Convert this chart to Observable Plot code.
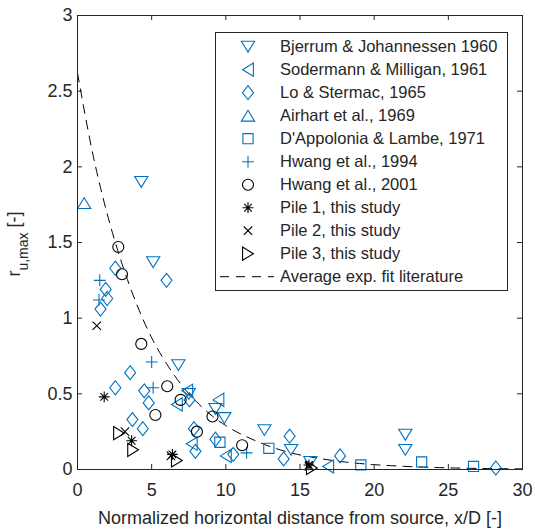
<!DOCTYPE html>
<html><head><meta charset="utf-8">
<script src="https://cdn.jsdelivr.net/npm/d3@7"></script>
<script src="https://cdn.jsdelivr.net/npm/@observablehq/plot@0.6"></script>
<style>
body{margin:0;background:#fff;}
svg{font-family:"Liberation Sans",Arial,sans-serif;}
</style>
</head><body><div id="chart"></div>
<script>
// ---- data ----
const xTicks = [0, 5, 10, 15, 20, 25, 30];
const xTickLabels = ["0", "5", "10", "15", "20", "25", "30"];
const yTicks = [0, 0.5, 1, 1.5, 2, 2.5, 3];
const yTickLabels = ["0", "0.5", "1", "1.5", "2", "2.5", "3"];

const bjerrumX = [4.3, 5.1, 6.8, 7.5, 9.3, 9.9, 12.6, 14.4, 15.7, 22.1, 22.1];
const bjerrumY = [1.90, 1.37, 0.69, 0.50, 0.40, 0.34, 0.26, 0.13, 0.05, 0.23, 0.13];
const sodermannX = [7.4, 6.7, 9.5, 7.7, 10.0, 16.9];
const sodermannY = [0.52, 0.43, 0.46, 0.17, 0.09, 0.02];
const loX = [1.9, 2.0, 1.55, 2.55, 6.0, 3.55, 2.55, 4.5, 4.8, 3.7, 4.4, 7.55, 7.85, 7.95, 9.3, 10.5, 14.3, 13.9, 17.7, 28.2];
const loY = [1.19, 1.13, 1.06, 1.33, 1.25, 0.64, 0.54, 0.52, 0.44, 0.33, 0.27, 0.46, 0.27, 0.12, 0.20, 0.10, 0.22, 0.07, 0.09, 0.01];
const airhartX = [0.45];
const airhartY = [1.76];
const dappoloniaX = [9.6, 12.9, 19.1, 23.2, 26.7];
const dappoloniaY = [0.18, 0.14, 0.03, 0.05, 0.02];
const hwang1994X = [1.5, 1.45, 5.0, 5.1, 11.4];
const hwang1994Y = [1.25, 1.12, 0.71, 0.54, 0.11];
const hwang2001X = [2.75, 3.0, 4.3, 6.05, 6.95, 5.25, 8.05, 9.1, 11.1];
const hwang2001Y = [1.47, 1.29, 0.83, 0.55, 0.46, 0.36, 0.25, 0.35, 0.16];
const pile1X = [1.8, 3.65, 6.4, 15.6];
const pile1Y = [0.48, 0.19, 0.10, 0.03];
const pile2X = [1.3, 3.2, 6.3, 15.6];
const pile2Y = [0.95, 0.25, 0.09, 0.02];
const pile3X = [2.8, 3.75, 6.7, 15.8];
const pile3Y = [0.24, 0.13, 0.06, 0.01];
const fitX = [0, 1, 2, 3, 4, 5, 6, 7, 8, 9, 10, 12, 14, 16, 18, 20, 22, 25, 30];
const fitY = [2.62, 2.10, 1.69, 1.36, 1.09, 0.87, 0.70, 0.56, 0.45, 0.36, 0.29, 0.19, 0.12, 0.078, 0.05, 0.032, 0.021, 0.011, 0.004];

// ---- symbols ----
function mk(fn){ return { draw(c, size){ const r = Math.sqrt(size/Math.PI); fn(c, r); } }; }
const symTriDown = mk((c,r)=>{const w=1.1*r,h=0.9*r; c.moveTo(-w,-h); c.lineTo(w,-h); c.lineTo(0,h); c.closePath();});
const symTriUp = mk((c,r)=>{const w=1.1*r,h=0.9*r; c.moveTo(-w,h); c.lineTo(w,h); c.lineTo(0,-h); c.closePath();});
const symTriLeft = mk((c,r)=>{const w=1.1*r,h=0.9*r; c.moveTo(-h,0); c.lineTo(h,-w); c.lineTo(h,w); c.closePath();});
const symTriRight = mk((c,r)=>{const w=1.1*r,h=0.9*r; c.moveTo(h,0); c.lineTo(-h,-w); c.lineTo(-h,w); c.closePath();});
const symDiamond = mk((c,r)=>{c.moveTo(0,-1.17*r); c.lineTo(0.92*r,0); c.lineTo(0,1.17*r); c.lineTo(-0.92*r,0); c.closePath();});
const symCircle = mk((c,r)=>{const a=0.92*r; c.moveTo(a,0); c.arc(0,0,a,0,2*Math.PI);});
const symSquare = mk((c,r)=>{const a=0.85*r; c.rect(-a,-a,2*a,2*a);});
const symPlus = mk((c,r)=>{c.moveTo(-r,0); c.lineTo(r,0); c.moveTo(0,-r); c.lineTo(0,r);});
const symTimes = mk((c,r)=>{const a=0.7*r; c.moveTo(-a,-a); c.lineTo(a,a); c.moveTo(-a,a); c.lineTo(a,-a);});
const symStar = mk((c,r)=>{const a=0.9*r,b=0.64*r; c.moveTo(-a,0); c.lineTo(a,0); c.moveTo(0,-a); c.lineTo(0,a); c.moveTo(-b,-b); c.lineTo(b,b); c.moveTo(-b,b); c.lineTo(b,-b);});

const BLUE = "#0072BD", BLACK = "#000000", AX = "#262626";

const series = [
  {name: "Bjerrum & Johannessen 1960", x: bjerrumX, y: bjerrumY, sym: symTriDown, color: BLUE},
  {name: "Sodermann & Milligan, 1961", x: sodermannX, y: sodermannY, sym: symTriLeft, color: BLUE},
  {name: "Lo & Stermac, 1965", x: loX, y: loY, sym: symDiamond, color: BLUE},
  {name: "Airhart et al., 1969", x: airhartX, y: airhartY, sym: symTriUp, color: BLUE},
  {name: "D'Appolonia & Lambe, 1971", x: dappoloniaX, y: dappoloniaY, sym: symSquare, color: BLUE},
  {name: "Hwang et al., 1994", x: hwang1994X, y: hwang1994Y, sym: symPlus, color: BLUE},
  {name: "Hwang et al., 2001", x: hwang2001X, y: hwang2001Y, sym: symCircle, color: BLACK},
  {name: "Pile 1, this study", x: pile1X, y: pile1Y, sym: symStar, color: BLACK},
  {name: "Pile 2, this study", x: pile2X, y: pile2Y, sym: symTimes, color: BLACK},
  {name: "Pile 3, this study", x: pile3X, y: pile3Y, sym: symTriRight, color: BLACK}
];
const fitName = "Average exp. fit literature";
const R = 6, SW = 1.1, DASH = "9,7";

const fitData = fitX.map((x,i)=>({x, y: fitY[i]}));

const marks = [
  Plot.line(fitData, {x: "x", y: "y", stroke: BLACK, strokeWidth: 1, strokeDasharray: DASH, curve: "monotone-x"}),
  ...series.map(s => Plot.dot(s.x.map((x,i)=>({x, y: s.y[i]})), {x: "x", y: "y", symbol: s.sym, r: R, stroke: s.color, fill: "none", strokeWidth: SW})),
  Plot.frame({stroke: AX, strokeWidth: 1}),
  Plot.tickX(xTicks, {x: d=>d, insetTop: 449, stroke: AX}),
  Plot.tickX(xTicks, {x: d=>d, insetBottom: 449, stroke: AX}),
  Plot.tickY(yTicks, {y: d=>d, insetRight: 440, stroke: AX}),
  Plot.tickY(yTicks, {y: d=>d, insetLeft: 440, stroke: AX}),
  Plot.axisX({ticks: xTicks, tickSize: 0, tickPadding: 14, tickFormat: (d,i)=>xTickLabels[xTicks.indexOf(d)], label: null, fill: AX}),
  Plot.axisY({ticks: yTicks, tickSize: 0, tickPadding: 5, tickFormat: (d,i)=>yTickLabels[yTicks.indexOf(d)], label: null, fill: AX})
];

const chart = Plot.plot({
  width: 535, height: 530,
  marginLeft: 77, marginRight: 13, marginTop: 15, marginBottom: 61,
  style: {fontSize: "18px", fontFamily: "'Liberation Sans', Arial, sans-serif", color: AX, background: "#fff"},
  x: {domain: [0, 30]},
  y: {domain: [0, 3]},
  marks
});
document.getElementById("chart").appendChild(chart);

// ---- axis titles ----
const svg = d3.select(chart);
svg.append("text").attr("x", 300).attr("y", 524).attr("text-anchor", "middle")
  .attr("fill", AX).style("font-size", "18px").text("Normalized horizontal distance from source, x/D [-]");
const yl = svg.append("text").attr("transform", "translate(20,244) rotate(-90)").attr("text-anchor", "middle")
  .attr("fill", AX).style("font-size", "18px");
yl.append("tspan").text("r");
yl.append("tspan").attr("dy", 8).style("font-size", "14px").text("u,max");
yl.append("tspan").attr("dy", -8).text(" [-]");

// ---- legend ----
const lg = svg.append("g").attr("text-anchor", "start");
lg.append("rect").attr("x", 215.5).attr("y", 32.5).attr("width", 292).attr("height", 258)
  .attr("fill", "#fff").attr("stroke", AX).attr("stroke-width", 1);
const rowY = i => 46.7 + 23 * i;
series.forEach((s, i) => {
  lg.append("path").attr("d", d3.symbol(s.sym, Math.PI * R * R)())
    .attr("transform", `translate(248,${rowY(i)})`)
    .attr("fill", "none").attr("stroke", s.color).attr("stroke-width", SW);
  lg.append("text").attr("x", 280).attr("y", rowY(i)).attr("dy", "0.35em").attr("text-anchor", "start")
    .attr("fill", AX).style("font-size", "16.5px").text(s.name);
});
const fi = series.length;
lg.append("line").attr("x1", 220).attr("x2", 274).attr("y1", rowY(fi)).attr("y2", rowY(fi))
  .attr("stroke", BLACK).attr("stroke-width", 1).attr("stroke-dasharray", DASH);
lg.append("text").attr("x", 280).attr("y", rowY(fi)).attr("dy", "0.35em").attr("text-anchor", "start")
  .attr("fill", AX).style("font-size", "16.5px").text(fitName);
</script></body></html>
